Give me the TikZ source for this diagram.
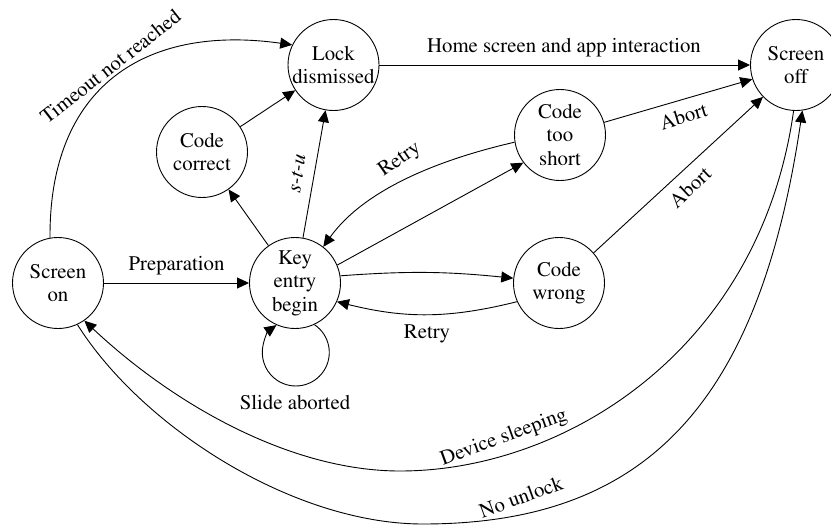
\documentclass[tikz,border=0pt]{standalone}
\usepackage[T1]{fontenc}
\usepackage{times}
\usetikzlibrary{arrows.meta}
\begin{document}
\begin{tikzpicture}[x=1pt,y=1pt,
  font=\fontsize{20.8}{23.5}\selectfont,
  state/.style={circle,draw,line width=0.9pt,minimum size=91pt,inner sep=0pt,align=center},
  lbl/.style={inner sep=0pt},
  arr/.style={-{Triangle[length=12pt,width=11pt]},line width=0.9pt}]
\useasboundingbox (0,0) rectangle (831,-525);
% states
\node[state] (on) at (58,-283) {Screen\\on};
\node[state] (key) at (295,-283) {Key\\entry\\begin};
\node[state] (correct) at (202,-152) {Code\\correct};
\node[state] (lock) at (333.5,-65) {Lock\\dismissed};
\node[state] (short) at (560,-135) {Code\\too\\short};
\node[state] (wrong) at (559,-283) {Code\\wrong};
\node[state] (off) at (796,-65) {Screen\\off};
% connectors
\draw[arr] (on.100) .. controls (49,-88) and (143.5,-24) .. (lock.154);
\draw[arr] (on) -- (key);
\draw[arr] (key) -- (correct);
\draw[arr] (correct) -- (lock);
\draw[arr] (key) -- (lock);
\draw[arr] (short.189) .. controls (437,-160) and (363.6,-190.3) .. (key.52);
\draw[arr] (key.23) -- (short.217);
\draw[arr] (key.9) to[bend left=5] (wrong.174);
\draw[arr] (wrong.204) to[bend left=14] (key.336);
\draw[arr] (lock) -- (off);
\draw[arr] (short.16) -- (off.198);
\draw[arr] (wrong.41.5) -- (off.224);
\draw[arr] (off.267) .. controls (760,-350) and (565,-471) .. (400,-471)
  .. controls (290,-471) and (173,-404) .. (on.305);
\draw[arr] (on.295.5) .. controls (142,-427) and (293,-524) .. (423,-524)
  .. controls (643,-524) and (758.6,-407.7) .. (off.278.6);
\draw[arr] (key.-65.3) arc[start angle=56.2, end angle=-234.8, radius=33.5];
% labels
\node[lbl,rotate=38] (lTimeout) at (110.5,-66.5) {Timeout not reached};
\node[lbl] (lPrep) at (176.5,-265.5) {Preparation};
\node[lbl,rotate=82] (lstu) at (297.5,-173.5) {\textit{s-t-u}};
\node[lbl,rotate=35] (lRetryA) at (400,-160) {Retry};
\node[lbl] (lRetryB) at (427,-333.5) {Retry};
\node[lbl] (lHome) at (564,-47.5) {Home screen and app interaction};
\node[lbl,rotate=17] (lAbortA) at (683.5,-116.5) {Abort};
\node[lbl,rotate=43] (lAbortB) at (690,-187.5) {Abort};
\node[lbl,rotate=20] (lSleep) at (504,-438) {Device sleeping};
\node[lbl,rotate=20] (lNo) at (521,-497) {No unlock};
\node[lbl] (lSlide) at (295,-402.5) {Slide aborted};
\end{tikzpicture}
\end{document}
